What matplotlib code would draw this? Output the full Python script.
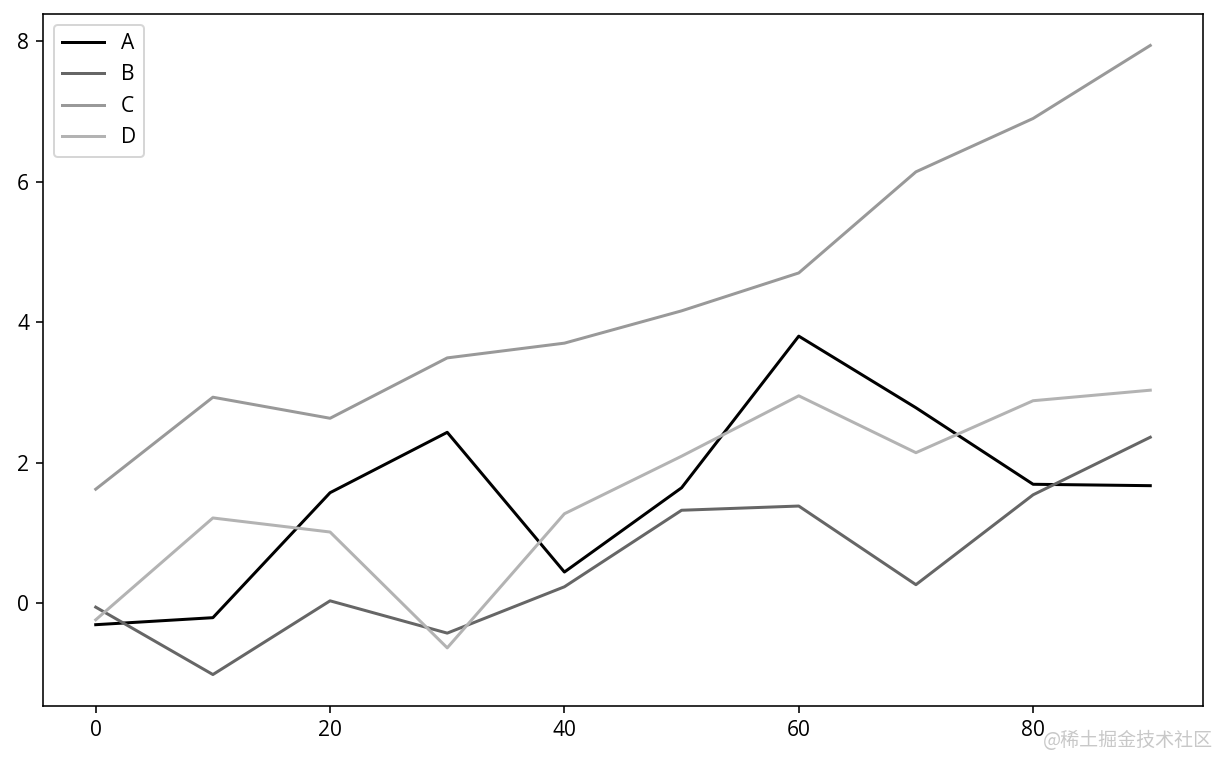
import matplotlib
matplotlib.use("Agg")
import matplotlib.pyplot as plt
import numpy as np

x = [0, 10, 20, 30, 40, 50, 60, 70, 80, 90]
series_names = ["A", "B", "C", "D"]
A = [-0.31, -0.21, 1.57, 2.43, 0.44, 1.64, 3.80, 2.78, 1.69, 1.67]
B = [-0.06, -1.02, 0.03, -0.43, 0.23, 1.32, 1.38, 0.26, 1.54, 2.36]
C = [1.62, 2.93, 2.63, 3.49, 3.70, 4.16, 4.70, 6.14, 6.90, 7.94]
D = [-0.24, 1.21, 1.01, -0.64, 1.27, 2.09, 2.95, 2.14, 2.88, 3.03]
colors = ["0.00", "0.40", "0.60", "0.70"]

plt.rcParams['font.family'] = ['Open Sans', 'DejaVu Sans']
plt.rcParams['font.size'] = 10.5

fig = plt.figure(figsize=(1220 / 144, 757 / 144), dpi=144)
ax = fig.add_axes([43 / 1220, 1 - 706 / 757, (1203 - 43) / 1220, (706 - 14) / 757])
for name, vals, c in zip(series_names, [A, B, C, D], colors):
    ax.plot(x, vals, color=c, label=name)
ax.set_xticks([0, 20, 40, 60, 80])
ax.set_yticks([0, 2, 4, 6, 8])
ax.legend(loc="upper left")

fig.text(1213 / 1220, 1 - 740 / 757, "@稀土掘金技术社区", ha="right", va="center",
         fontsize=9.5, color="#c8c8c8", family=["Noto Sans CJK SC", "DejaVu Sans"])

fig.savefig("out.png", dpi=144)
